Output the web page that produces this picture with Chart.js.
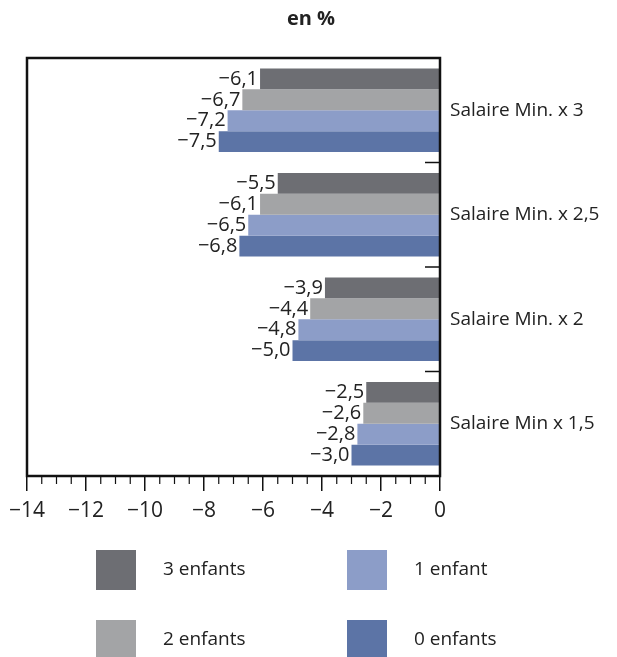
<!DOCTYPE html>
<html>
<head>
<meta charset="utf-8">
<script src="https://cdn.jsdelivr.net/npm/chart.js@4.4.0/dist/chart.umd.min.js"></script>
<style>
    html, body { margin: 0; padding: 0; background: #fff; }
    #wrap { width: 617px; height: 657px; }
</style>
</head>
<body>
<div id="wrap"><canvas id="chart" width="617" height="657"></canvas></div>
<script>
    "use strict";

    // Data
    var categories = ['Salaire Min. x 3', 'Salaire Min. x 2,5', 'Salaire Min. x 2', 'Salaire Min x 1,5'];
    var seriesNames = ['3 enfants', '2 enfants', '1 enfant', '0 enfants'];
    var troisEnfants = [-6.1, -5.5, -3.9, -2.5];
    var deuxEnfants = [-6.7, -6.1, -4.4, -2.6];
    var unEnfant = [-7.2, -6.5, -4.8, -2.8];
    var zeroEnfant = [-7.5, -6.8, -5.0, -3.0];
    var xMin = -14, xMax = 0, xStep = 2, xMinorStep = 0.5;

    var colors = ['#6d6e73', '#a3a4a6', '#8c9dc8', '#5c74a6'];
    var FONT = "'Open Sans', 'DejaVu Sans', sans-serif";
    var TEXT = '#222222';

    function fmt(v) {
        var s = Math.abs(v).toFixed(1).replace('.', ',');
        return (v < 0 ? '\u2212' : '') + s;
    }

    // Frame, inner category ticks, minor x ticks, data labels, title, legend
    var decor = {
        id: 'decor',
        afterDatasetsDraw: function (chart) {
            var ctx = chart.ctx;
            ctx.save();
            ctx.font = '20px ' + FONT;
            ctx.textAlign = 'right';
            ctx.textBaseline = 'middle';
            chart.data.datasets.forEach(function (ds, i) {
                var meta = chart.getDatasetMeta(i);
                meta.data.forEach(function (bar, j) {
                    var t = fmt(ds.data[j]);
                    var w = ctx.measureText(t).width;
                    var x = bar.x - 2;
                    ctx.fillStyle = '#fff';
                    ctx.fillRect(x - w - 1, bar.y - 9, w + 1, 18);
                    ctx.fillStyle = TEXT;
                    ctx.fillText(t, x, bar.y);
                });
            });
            ctx.restore();
        },
        afterDraw: function (chart) {
            var ctx = chart.ctx;
            var a = chart.chartArea;
            var xs = chart.scales.x, ys = chart.scales.y;
            ctx.save();

            // frame
            ctx.strokeStyle = '#111';
            ctx.lineWidth = 2.5;
            ctx.strokeRect(a.left, a.top, a.right - a.left, a.bottom - a.top);

            // category separators on the right axis
            ctx.lineWidth = 1.5;
            for (var i = 0; i < categories.length - 1; i++) {
                var yb = (ys.getPixelForValue(i) + ys.getPixelForValue(i + 1)) / 2;
                ctx.beginPath();
                ctx.moveTo(a.right, yb);
                ctx.lineTo(a.right - 15, yb);
                ctx.stroke();
            }

            // minor x ticks
            ctx.lineWidth = 1.2;
            for (var v = xMin; v <= xMax; v += xMinorStep) {
                if (Math.abs(v % xStep) < 1e-9) continue;
                var px = xs.getPixelForValue(v);
                ctx.beginPath();
                ctx.moveTo(px, a.bottom);
                ctx.lineTo(px, a.bottom + 8);
                ctx.stroke();
            }

            // title
            ctx.fillStyle = TEXT;
            ctx.font = 'bold 20px ' + FONT;
            ctx.textAlign = 'center';
            ctx.textBaseline = 'middle';
            ctx.fillText('en %', 311, 19);

            // legend, 2 x 2
            var pos = [[96, 550], [96, 620], [347, 550], [347, 620]];
            ctx.font = '19px ' + FONT;
            ctx.textAlign = 'left';
            seriesNames.forEach(function (name, k) {
                var p = pos[k];
                ctx.fillStyle = colors[k];
                ctx.fillRect(p[0], p[1], 40, 40);
                ctx.fillStyle = TEXT;
                ctx.fillText(name, p[0] + 67, p[1] + 20);
            });
            ctx.restore();
        }
    };

    var ctx1 = document.getElementById('chart').getContext('2d');
    var myChart = new Chart(ctx1, {
        type: 'bar',
        data: {
            labels: categories,
            datasets: [
                { label: seriesNames[0], data: troisEnfants, backgroundColor: colors[0] },
                { label: seriesNames[1], data: deuxEnfants, backgroundColor: colors[1] },
                { label: seriesNames[2], data: unEnfant, backgroundColor: colors[2] },
                { label: seriesNames[3], data: zeroEnfant, backgroundColor: colors[3] }
            ]
        },
        options: {
            indexAxis: 'y',
            responsive: false,
            animation: false,
            devicePixelRatio: 1,
            categoryPercentage: 0.8,
            barPercentage: 1.0,
            layout: { padding: { left: 27, right: 0, top: 58, bottom: 121 } },
            plugins: {
                legend: { display: false },
                title: { display: false },
                tooltip: { enabled: false }
            },
            scales: {
                x: {
                    min: xMin,
                    max: xMax,
                    ticks: {
                        stepSize: xStep,
                        color: TEXT,
                        font: { family: FONT, size: 21 },
                        padding: 7,
                        maxRotation: 0,
                        callback: function (v) { return (v < 0 ? '\u2212' : '') + Math.abs(v); }
                    },
                    grid: { drawOnChartArea: false, tickLength: 15, color: '#111', lineWidth: 1.5 },
                    border: { display: false },
                    afterFit: function (s) { s.height = 60; }
                },
                y: {
                    position: 'right',
                    ticks: {
                        color: TEXT,
                        font: { family: FONT, size: 19 },
                        padding: 10
                    },
                    grid: { display: false, drawTicks: false },
                    border: { display: false },
                    afterFit: function (s) { s.width = 177; }
                }
            }
        },
        plugins: [decor]
    });
</script>
</body>
</html>
